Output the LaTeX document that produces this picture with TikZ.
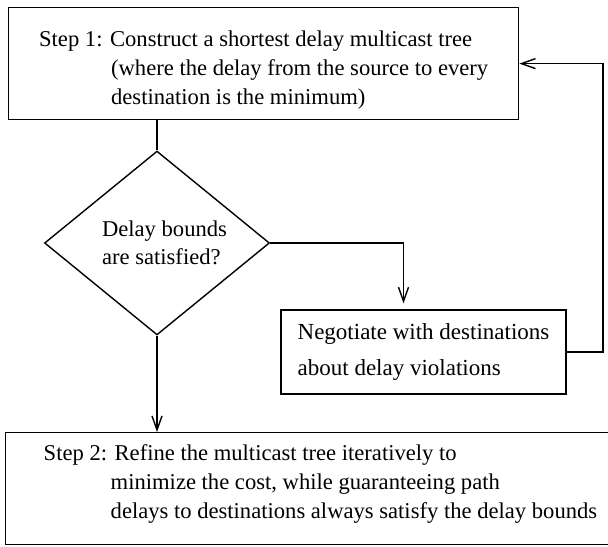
\documentclass[tikz,border=0pt]{standalone}
\usepackage{fontspec}
\setmainfont{Liberation Serif}
\usetikzlibrary{shapes.geometric, arrows.meta}

\begin{document}
\begin{tikzpicture}[
    x=0.5pt, y=-0.5pt,
    every node/.style={font=\fontsize{11.3}{14.5}\selectfont},
    stepbox/.style={rectangle, draw=black, line width=0.7pt, align=left,
        inner xsep=0pt, inner ysep=5pt},
    decision/.style={diamond, draw=black, line width=0.7pt, align=left,
        inner sep=0pt, minimum width=112.5pt, minimum height=56pt,
        font=\fontsize{11.3}{14}\selectfont},
    taskbox/.style={rectangle, draw=black, line width=0.7pt, align=left,
        minimum width=142.5pt, minimum height=42pt,
        font=\fontsize{11.5}{18}\selectfont},
    link/.style={line width=0.7pt},
    flow/.style={line width=0.7pt, -{Straight Barb[length=7pt, width=5pt]}}
]
    \useasboundingbox (0,0) rectangle (608,546);
    \clip (0,0) rectangle (608,546);
    \node[stepbox, minimum width=255pt, anchor=north west] (step1) at (8,7)
        {\rule{0pt}{14.5pt}Step 1: Construct a shortest delay multicast tree\\
         \hspace*{36pt}(where the delay from the source to every\\
         \hspace*{36pt}destination is the minimum)};
    \node[decision] (dec) at (157,243)
        {\hspace*{7.5pt}Delay bounds\\\hspace*{7.5pt}are satisfied?};
    \node[taskbox] (neg) at (423.5,352)
        {Negotiate with destinations\\about delay violations};
    \node[stepbox, inner xsep=19pt, inner ysep=6pt, anchor=north west] (step2) at (5,432)
        {Step 2: Refine the multicast tree iteratively to\\
         \hspace*{33.5pt}minimize the cost, while guaranteeing path\\
         \hspace*{33.5pt}delays to destinations always satisfy the delay bounds\rule[-7pt]{0pt}{7pt}};
    \coordinate (back) at (603,200);
    \draw[link] (dec.north |- step1.south) -- (dec.north);
    \draw[flow, shorten >=3pt] (dec.east) -| ([xshift=-10pt]neg.north);
    \draw[flow] (neg.east) -| (back) |- (step1.east);
    \draw[flow] (dec.south) -- (dec.south |- step2.north);
\end{tikzpicture}
\end{document}
